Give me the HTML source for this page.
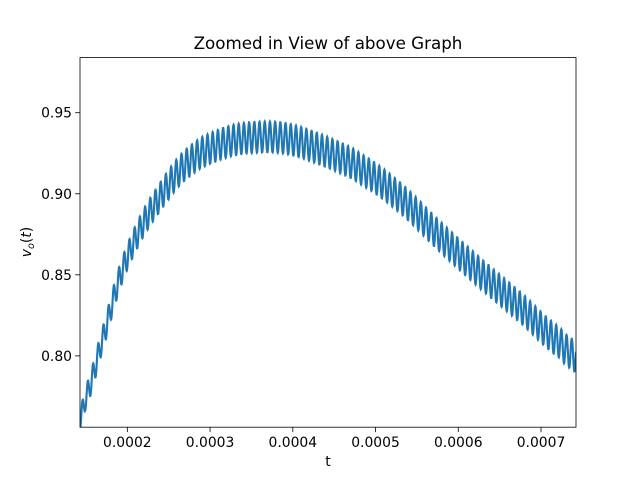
<!DOCTYPE html>
<html><head><meta charset="utf-8"><style>
body{margin:0;background:#fff}
svg text{font-family:"DejaVu Sans","Liberation Sans",sans-serif;fill:#000}
</style></head><body>
<svg width="640" height="480" viewBox="0 0 640 480">
<rect width="640" height="480" fill="#fff"/>
<text x="328" y="49" font-size="16.7" text-anchor="middle">Zoomed in View of above Graph</text>
<g id="plot"></g>
<g id="axes"></g>
<text x="328" y="466" font-size="13.9" text-anchor="middle">t</text>
<text transform="translate(31,242) rotate(-90)" font-size="13.9" text-anchor="middle"><tspan font-style="italic">v</tspan><tspan font-size="9.7" font-style="italic" dy="3">o</tspan><tspan dy="-3">(</tspan><tspan font-style="italic">t</tspan>)</text>
</svg>
<script>
const knotT = [0.0001428,0.0001489,0.0001670,0.0001912,0.0002154,0.0002395,0.0002637,0.0002879,0.0003242,0.0003605,0.0003967,0.0004451,0.0004814,0.0005297,0.0005781,0.0006265,0.0006748,0.0007232,0.0007425];
const centerV = [0.761,0.773,0.805,0.849,0.878,0.898,0.9145,0.925,0.9325,0.935,0.9335,0.925,0.9155,0.8975,0.8735,0.851,0.830,0.808,0.799];
const rippleAmp = [0.007,0.007,0.0072,0.0076,0.0082,0.0088,0.0092,0.0094,0.0095,0.0095,0.0095,0.0095,0.0095,0.0095,0.0095,0.0095,0.0095,0.0095,0.0095];
const ripplePeriod = [6.29e-6];
const xTicks = [0.0002,0.0003,0.0004,0.0005,0.0006,0.0007];
const xTickLabels = ["0.0002","0.0003","0.0004","0.0005","0.0006","0.0007"];
const yTicks = [0.80,0.85,0.90,0.95];
const yTickLabels = ["0.80","0.85","0.90","0.95"];
const xDomain = [0.0001428,0.0007423];
const yDomain = [0.756,0.984];

const L=80,R=576,T=57.6,B=427.2;
const xs=t=>L+(t-xDomain[0])/(xDomain[1]-xDomain[0])*(R-L);
const ys=v=>B-(v-yDomain[0])/(yDomain[1]-yDomain[0])*(B-T);
const NS="http://www.w3.org/2000/svg";
function interp(arr,t){
  if(t<=knotT[0])return arr[0];
  for(let i=0;i<knotT.length-1;i++){
    if(t<=knotT[i+1]){
      const u=(t-knotT[i])/(knotT[i+1]-knotT[i]);
      const m0=i>0?(arr[i+1]-arr[i-1])/2:(arr[i+1]-arr[i]);
      const m1=i<arr.length-2?(arr[i+2]-arr[i])/2:(arr[i+1]-arr[i]);
      const h00=2*u*u*u-3*u*u+1,h10=u*u*u-2*u*u+u,h01=-2*u*u*u+3*u*u,h11=u*u*u-u*u;
      return h00*arr[i]+h10*m0+h01*arr[i+1]+h11*m1;
    }
  }
  return arr[arr.length-1];
}
const plot=document.getElementById('plot');
const clip=document.createElementNS(NS,'clipPath');clip.id='c';
const cr=document.createElementNS(NS,'rect');
cr.setAttribute('x',L);cr.setAttribute('y',T);cr.setAttribute('width',R-L);cr.setAttribute('height',B-T);
clip.appendChild(cr);plot.appendChild(clip);
let d='';const N=2400;
for(let k=0;k<=N;k++){
  const t=xDomain[0]+(xDomain[1]-xDomain[0])*k/N;
  const v=interp(centerV,t)+interp(rippleAmp,t)*Math.sin(2*Math.PI*(t-xDomain[0])/ripplePeriod[0]-Math.PI/2);
  d+=(k?'L':'M')+xs(t).toFixed(2)+','+ys(v).toFixed(2);
}
const p=document.createElementNS(NS,'path');


p.setAttribute('d',d);p.setAttribute('fill','none');p.setAttribute('stroke','#1f77b4');
p.setAttribute('stroke-width','2.1');p.setAttribute('clip-path','url(#c)');
plot.appendChild(p);
const axes=document.getElementById('axes');
xTicks.forEach((t,i)=>{
  const x=xs(t);
  const ln=document.createElementNS(NS,'line');
  
  
  ln.setAttribute('x1',x);ln.setAttribute('x2',x);ln.setAttribute('y1',B);ln.setAttribute('y2',B+4.9);ln.setAttribute('stroke','#000');ln.setAttribute('stroke-width','0.8');
  axes.appendChild(ln);
  const tx=document.createElementNS(NS,'text');
  
  
  tx.setAttribute('x',x);tx.setAttribute('y',B+20);tx.setAttribute('font-size','13.9');tx.setAttribute('text-anchor','middle');
  tx.textContent=xTickLabels[i];axes.appendChild(tx);
});
yTicks.forEach((v,i)=>{
  const y=ys(v);
  const ln=document.createElementNS(NS,'line');
  
  
  ln.setAttribute('x1',L-4.9);ln.setAttribute('x2',L);ln.setAttribute('y1',y);ln.setAttribute('y2',y);ln.setAttribute('stroke','#000');ln.setAttribute('stroke-width','0.8');
  axes.appendChild(ln);
  const tx=document.createElementNS(NS,'text');
  
  
  tx.setAttribute('x',L-8);tx.setAttribute('y',y+5);tx.setAttribute('font-size','13.9');tx.setAttribute('text-anchor','end');
  tx.textContent=yTickLabels[i];axes.appendChild(tx);
});
const fr=document.createElementNS(NS,'rect');


fr.setAttribute('x',L);fr.setAttribute('y',T);fr.setAttribute('width',R-L);fr.setAttribute('height',B-T);
fr.setAttribute('fill','none');fr.setAttribute('stroke','#000');fr.setAttribute('stroke-width','0.8');
axes.appendChild(fr);
</script>
</body></html>
